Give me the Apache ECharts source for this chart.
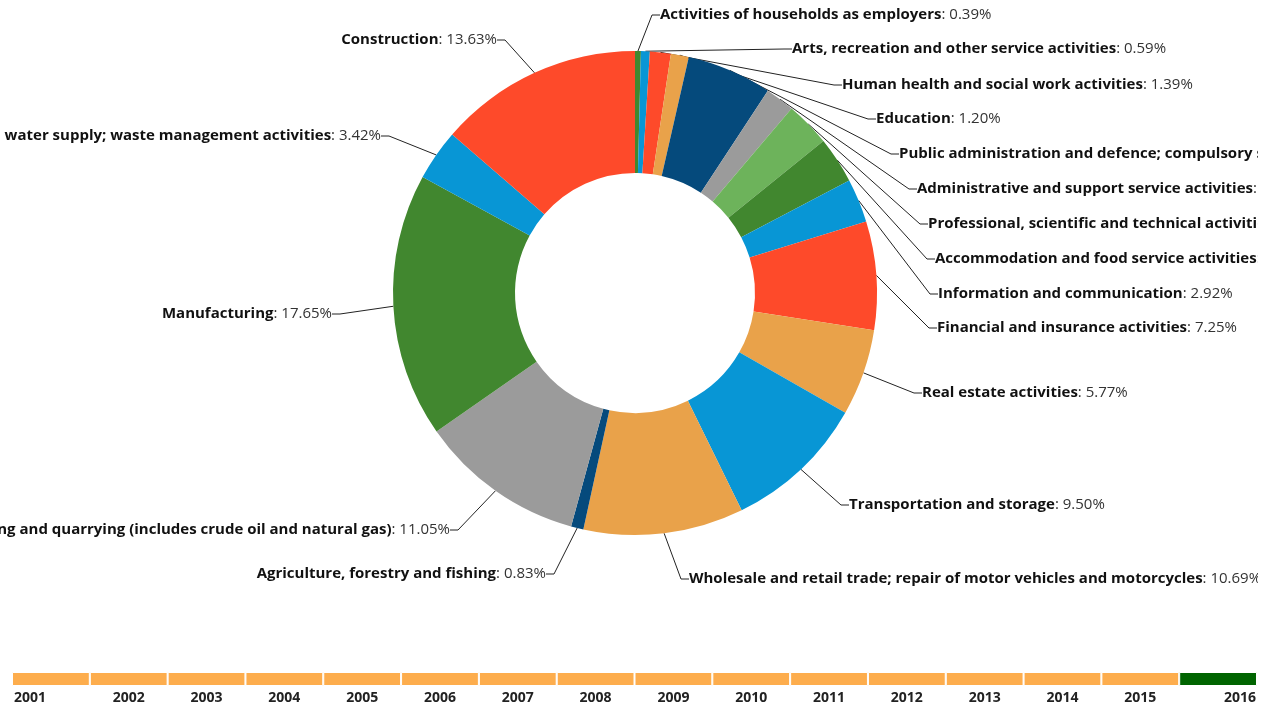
<!DOCTYPE html>
<html>
<head>
<meta charset="utf-8">
<script src="https://cdn.jsdelivr.net/npm/echarts@6/dist/echarts.min.js"></script>
<style>
  html, body { margin: 0; padding: 0; background: #fff; }
  #chart { width: 1272px; height: 709px; }
</style>
</head>
<body>
<div id="chart"></div>
<script>
// sectors, clockwise from 12 o'clock
const sectors = [
  'Activities of households as employers',
  'Arts, recreation and other service activities',
  'Human health and social work activities',
  'Education',
  'Public administration and defence; compulsory social security',
  'Administrative and support service activities',
  'Professional, scientific and technical activities',
  'Accommodation and food service activities',
  'Information and communication',
  'Financial and insurance activities',
  'Real estate activities',
  'Transportation and storage',
  'Wholesale and retail trade; repair of motor vehicles and motorcycles',
  'Agriculture, forestry and fishing',
  'Mining and quarrying (includes crude oil and natural gas)',
  'Manufacturing',
  'Electricity, gas and water supply; waste management activities',
  'Construction'
]
const shares = [0.39, 0.59, 1.39, 1.20, 5.68, 1.95, 3.00, 3.10, 2.92, 7.25, 5.77, 9.50, 10.69, 0.83, 11.05, 17.65, 3.42, 13.63]
const years = ['2001', '2002', '2003', '2004', '2005', '2006', '2007', '2008', '2009', '2010', '2011', '2012', '2013', '2014', '2015', '2016']
const currentYear = '2016'

const sliceColors = ['#41872f', '#0896d5', '#fe4a2a', '#e9a24a', '#054a7c', '#9b9b9b', '#6db35b', '#41872f', '#0896d5',
  '#fe4a2a', '#e9a24a', '#0896d5', '#e9a24a', '#054a7c', '#9b9b9b', '#41872f', '#0896d5', '#fe4a2a']

// label anchor: [x, y, align]
const labelPos = [
  [660, 15, 'left'], [792, 49, 'left'], [842, 85, 'left'], [876, 119, 'left'], [899, 154, 'left'],
  [917, 189, 'left'], [928, 224, 'left'], [935, 259, 'left'], [938, 294, 'left'], [937, 328, 'left'],
  [922, 393, 'left'], [849, 505, 'left'], [689, 579, 'left'], [546, 574, 'right'], [450, 530, 'right'],
  [332, 314, 'right'], [381, 136, 'right'], [497, 40, 'right']
]

const font = 'Open Sans'

let myChart = echarts.init(document.getElementById('chart'))
myChart.setOption({
  animation: false,
  textStyle: { fontFamily: font },
  // the source chart is wider than the view: labels are cut at the right edge
  graphic: [{
    type: 'rect',
    right: 0,
    top: 0,
    z: 100,
    shape: { width: 14, height: 660 },
    style: { fill: '#fff' },
    silent: true
  }],
  grid: { left: 12, right: 15, top: 672, height: 14 },
  xAxis: {
    type: 'category',
    data: years,
    axisLine: { show: false },
    axisTick: { show: false },
    axisLabel: {
      interval: 0,
      margin: 5,
      fontSize: 14,
      fontWeight: 'bold',
      fontFamily: font,
      color: '#222',
      formatter: (v, i) => {
        if (i === 0) return '{first|' + v + '}'
        if (i === years.length - 1) return '{last|' + v + '}'
        return v
      },
      rich: {
        first: { fontSize: 14, fontWeight: 'bold', fontFamily: font, color: '#222', padding: [0, 42, 0, 0] },
        last: { fontSize: 14, fontWeight: 'bold', fontFamily: font, color: '#222', padding: [0, 0, 0, 44] }
      }
    }
  },
  yAxis: { type: 'value', show: false, min: 0, max: 1 },
  series: [
    {
      type: 'bar',
      barCategoryGap: '0%',
      silent: true,
      data: years.map(y => ({
        value: 1,
        itemStyle: { color: y === currentYear ? '#006400' : '#fdad4d' }
      })),
      itemStyle: { borderColor: '#fff', borderWidth: 1 }
    },
    {
      type: 'pie',
      center: [635, 293],
      radius: [120, 242],
      startAngle: 90,
      clockwise: true,
      avoidLabelOverlap: false,
      data: sectors.map((name, i) => ({
        name: name,
        value: shares[i],
        itemStyle: { color: sliceColors[i] }
      })),
      label: {
        show: true,
        formatter: p => '{b|' + p.name + '}{v|: ' + p.value.toFixed(2) + '%}',
        rich: {
          b: { fontFamily: font, fontWeight: 'bold', fontSize: 15, color: '#111' },
          v: { fontFamily: font, fontSize: 15, color: '#333' }
        }
      },
      labelLine: {
        show: true,
        length: 8,
        length2: 8,
        lineStyle: { color: '#222', width: 1 }
      },
      labelLayout: params => {
        const p = labelPos[params.dataIndex]
        return { x: p[0], y: p[1], align: p[2], verticalAlign: 'middle' }
      }
    }
  ]
})
</script>
</body>
</html>
